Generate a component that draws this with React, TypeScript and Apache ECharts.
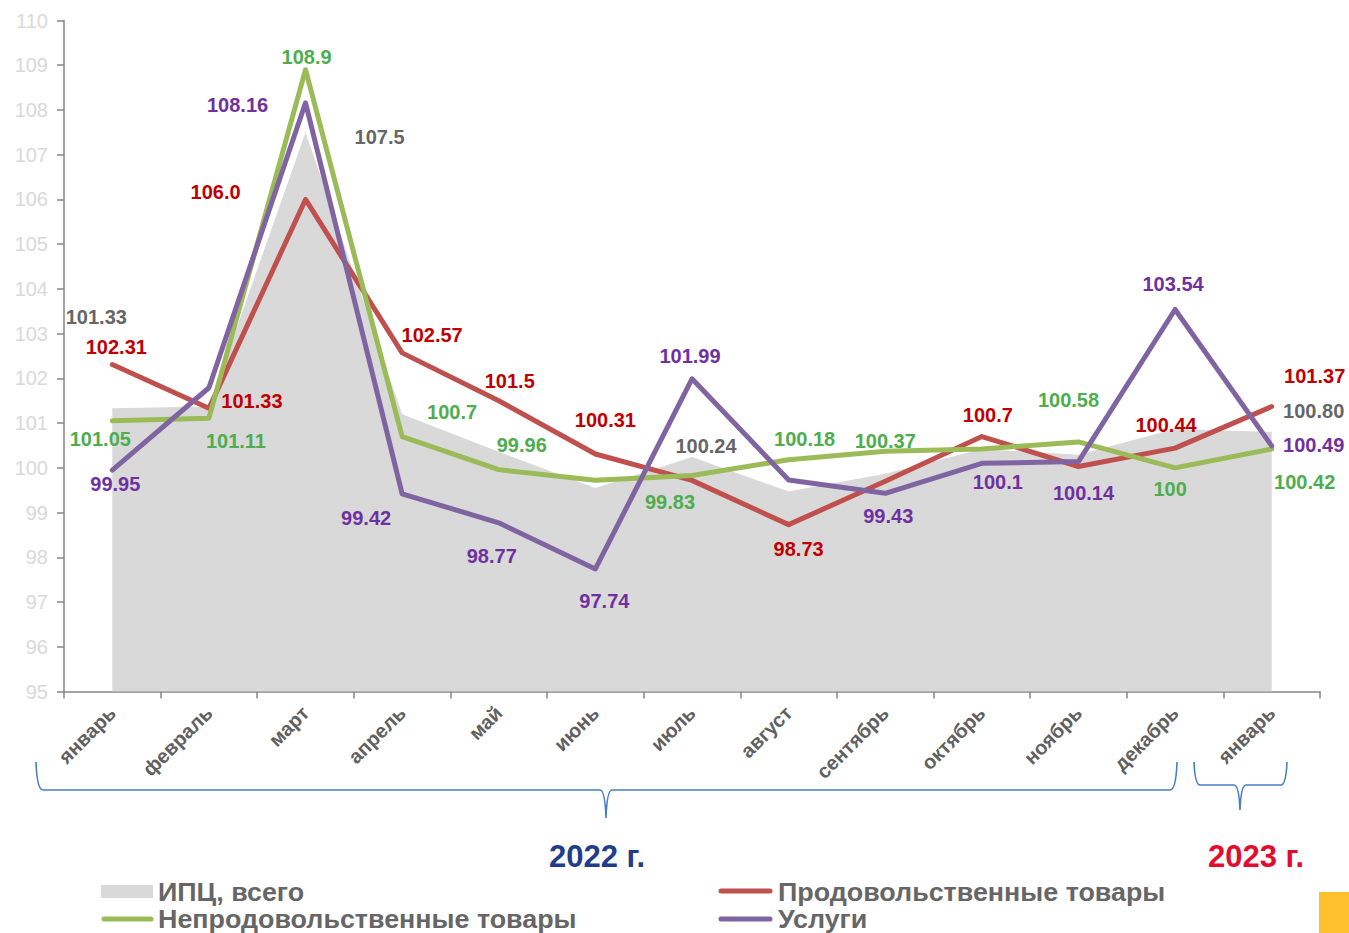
import React, { useEffect, useRef } from "react";
import * as echarts from "echarts";

const months = ["январь", "февраль", "март", "апрель", "май", "июнь", "июль", "август", "сентябрь", "октябрь", "ноябрь", "декабрь", "январь"];

const cpi = [101.33, 101.37, 107.5, 101.2, 100.36, 99.55, 100.24, 99.47, 99.87, 100.42, 100.29, 100.87, 100.8];
const food = [102.31, 101.33, 106.0, 102.57, 101.5, 100.31, 99.72, 98.73, 99.7, 100.7, 100.03, 100.44, 101.37];
const nonFood = [101.05, 101.11, 108.9, 100.7, 99.96, 99.72, 99.83, 100.18, 100.37, 100.42, 100.58, 100, 100.42];
const services = [99.95, 101.79, 108.16, 99.42, 98.77, 97.74, 101.99, 99.73, 99.43, 100.1, 100.14, 103.54, 100.49];

// label texts as printed on the chart (null = no label)
const cpiLabels = ["101.33", null, "107.5", null, null, null, "100.24", null, null, null, null, null, "100.80"];
const foodLabels = ["102.31", "101.33", "106.0", "102.57", "101.5", "100.31", null, "98.73", null, "100.7", null, "100.44", "101.37"];
const nonFoodLabels = ["101.05", "101.11", "108.9", "100.7", "99.96", null, "99.83", "100.18", "100.37", null, "100.58", "100", "100.42"];
const servicesLabels = ["99.95", null, "108.16", "99.42", "98.77", "97.74", "101.99", null, "99.43", "100.1", "100.14", "103.54", "100.49"];

// label offsets (px) from the data point
const cpiOffsets = [[-16, -91], null, [74, 5], null, null, null, [14, -11], null, null, null, null, null, [42, -21]];
const foodOffsets = [[4, -17], [43, -7], [-90, -7], [30, -18], [11, -20], [10, -34], null, [10, 24], null, [6, -22], null, [-9, -23], [43, -31]];
const nonFoodOffsets = [[-12, 18], [27, 23], [1, -13], [50, -25], [23, -25], null, [-22, 27], [16, -21], [0, -10], null, [-10, -42], [-5, 21], [33, 33]];
const servicesOffsets = [[3, 14], null, [-68, 2], [-36, 24], [-7, 33], [9, 32], [-2, -23], null, [3, 23], [16, 19], [5, 31], [-2, -25], [42, -1]];

const seriesNames = ["ИПЦ, всего", "Продовольственные товары", "Непродовольственные товары", "Услуги"];
const yearLabels = ["2022 г.", "2023 г."];

const FONT = '"Liberation Sans", Arial, sans-serif';

const braceBig =
  "M36,762 Q37,790 43,790 L600,790 Q605,790 606,818 Q607,790 612,790 L1170,790 Q1176,790 1177,762";
const braceSmall =
  "M1194,762 Q1195,785 1200,785 L1234,785 Q1239,785 1240,810 Q1241,785 1246,785 L1281,785 Q1286,785 1287,762";

echarts.graphic.registerShape("braceBig", echarts.graphic.extendPath(braceBig, {}));
echarts.graphic.registerShape("braceSmall", echarts.graphic.extendPath(braceSmall, {}));

function buildData(values: number[], labels: (string | null)[], offsets: (number[] | null)[]) {
  return values.map((v, i) => {
    const t = labels[i];
    const o = offsets[i];
    if (t == null || o == null) return { value: v };
    return { value: v, label: { show: true, offset: o, formatter: t } };
  });
}

function lineSeries(name: string, values: number[], labels: (string | null)[], offsets: (number[] | null)[], lineColor: string, labelColor: string, z: number) {
  return {
    name,
    type: "line",
    data: buildData(values, labels, offsets),
    symbol: "circle",
    symbolSize: 1,
    showSymbol: true,
    z,
    lineStyle: { width: 5, color: lineColor, cap: "round", join: "round" },
    itemStyle: { color: lineColor },
    label: {
      show: false,
      position: "inside",
      color: labelColor,
      fontSize: 20,
      fontWeight: "bold",
      fontFamily: FONT,
    },
    emphasis: { disabled: true },
  };
}

export default function App() {
  const ref = useRef<HTMLDivElement>(null);

  useEffect(() => {
    if (!ref.current) return;
    const chart = echarts.init(ref.current, undefined, { renderer: "svg" });
    const legendText = (x: number, y: number, text: string) => ({
      type: "text",
      x,
      y,
      scaleX: 1.075,
      style: { text, fill: "#666666", font: `bold 25px ${FONT}`, align: "left", verticalAlign: "middle" },
    });
    const option: any = {
      animation: false,
      grid: { left: 64, right: 29, top: 20.5, bottom: 241.5, containLabel: false, outerBoundsMode: "none" },
      xAxis: {
        type: "category",
        data: months,
        boundaryGap: true,
        axisLine: { show: true, lineStyle: { color: "#868686", width: 1.5 } },
        axisTick: { show: true, length: 7, lineStyle: { color: "#868686", width: 1.5 } },
        axisLabel: { rotate: 45, interval: 0, fontSize: 20, fontWeight: "bold", color: "#606060", margin: 18, fontFamily: FONT },
        splitLine: { show: false },
      },
      yAxis: {
        type: "value",
        min: 95,
        max: 110,
        interval: 1,
        axisLine: { show: true, lineStyle: { color: "#868686", width: 1.5 } },
        axisTick: { show: true, length: 7, lineStyle: { color: "#868686", width: 1.5 } },
        axisLabel: { fontSize: 20, color: "#D9D9D9", margin: 16, fontFamily: FONT },
        splitLine: { show: false },
      },
      series: [
        {
          name: seriesNames[0],
          type: "line",
          data: buildData(cpi, cpiLabels, cpiOffsets),
          symbol: "circle",
          symbolSize: 1,
          showSymbol: true,
          z: 1,
          lineStyle: { width: 0, color: "#D9D9D9" },
          itemStyle: { color: "#D9D9D9" },
          areaStyle: { color: "#D9D9D9", opacity: 1, origin: "start" },
          label: { show: false, position: "inside", color: "#666666", fontSize: 20, fontWeight: "bold", fontFamily: FONT },
          emphasis: { disabled: true },
        },
        lineSeries(seriesNames[1], food, foodLabels, foodOffsets, "#C0504D", "#C00000", 2),
        lineSeries(seriesNames[2], nonFood, nonFoodLabels, nonFoodOffsets, "#9BBB59", "#4EAD4E", 3),
        lineSeries(seriesNames[3], services, servicesLabels, servicesOffsets, "#8064A2", "#7030A0", 4),
      ],
      graphic: [
        { type: "braceBig", x: 0, y: 0, style: { stroke: "#4A7EC4", fill: "none", lineWidth: 1.6 } },
        { type: "braceSmall", x: 0, y: 0, style: { stroke: "#4A7EC4", fill: "none", lineWidth: 1.6 } },
        {
          type: "text",
          x: 597,
          y: 856,
          style: { text: yearLabels[0], fill: "#203D8C", font: `bold 31px ${FONT}`, align: "center", verticalAlign: "middle" },
        },
        {
          type: "text",
          x: 1256,
          y: 856,
          style: { text: yearLabels[1], fill: "#E30B2E", font: `bold 31px ${FONT}`, align: "center", verticalAlign: "middle" },
        },
        { type: "rect", shape: { x: 101, y: 885, width: 52, height: 13 }, style: { fill: "#D9D9D9" } },
        legendText(158, 892, seriesNames[0]),
        { type: "line", shape: { x1: 104, y1: 919, x2: 151, y2: 919 }, style: { stroke: "#9BBB59", lineWidth: 5, lineCap: "round" } },
        legendText(158, 919, seriesNames[2]),
        { type: "line", shape: { x1: 721, y1: 891, x2: 770, y2: 891 }, style: { stroke: "#C0504D", lineWidth: 5, lineCap: "round" } },
        legendText(778, 892, seriesNames[1]),
        { type: "line", shape: { x1: 721, y1: 919, x2: 770, y2: 919 }, style: { stroke: "#8064A2", lineWidth: 5, lineCap: "round" } },
        legendText(778, 919, seriesNames[3]),
        { type: "rect", shape: { x: 1319, y: 892, width: 30, height: 41 }, style: { fill: "#FFC12E" } },
      ],
    };
    chart.setOption(option);
    return () => chart.dispose();
  }, []);

  return <div ref={ref} style={{ position: "fixed", left: 0, top: 0, width: 1349, height: 933, background: "#ffffff" }} />;
}
